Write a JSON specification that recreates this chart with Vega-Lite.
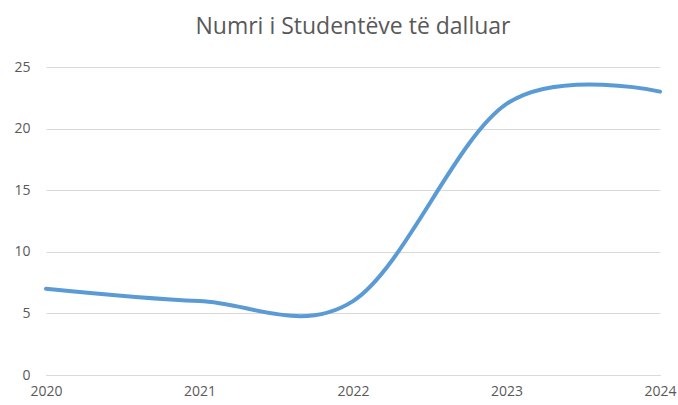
{
  "$schema": "https://vega.github.io/schema/vega-lite/v6.json",
  "width": 614,
  "height": 308,
  "autosize": {"type": "none"},
  "padding": {"left": 46, "top": 67, "right": 18, "bottom": 30},
  "background": "white",
  "title": {
    "text": "Numri i Studentëve të dalluar",
    "fontSize": 23,
    "font": "Open Sans",
    "fontWeight": "normal",
    "color": "#595959",
    "anchor": "middle",
    "offset": 21
  },
  "config": {"view": {"stroke": null}},
  "data": {
    "values": [
      {"year": 2020, "value": 7},
      {"year": 2021, "value": 6},
      {"year": 2022, "value": 6},
      {"year": 2023, "value": 22},
      {"year": 2024, "value": 23}
    ]
  },
  "mark": {"type": "line", "interpolate": "cardinal", "color": "#5b9bd5", "strokeWidth": 4, "strokeCap": "round"},
  "encoding": {
    "x": {
      "field": "year",
      "type": "quantitative",
      "scale": {"domain": [2020, 2024], "nice": false, "zero": false},
      "axis": {
        "title": null,
        "values": [2020, 2021, 2022, 2023, 2024],
        "format": "d",
        "grid": false,
        "ticks": false,
        "domainColor": "#d9d9d9",
        "labelColor": "#595959",
        "labelFont": "Open Sans",
        "labelFontSize": 14,
        "labelPadding": 9,
        "labelFlush": false
      }
    },
    "y": {
      "field": "value",
      "type": "quantitative",
      "scale": {"domain": [0, 25], "nice": false},
      "axis": {
        "title": null,
        "values": [0, 5, 10, 15, 20, 25],
        "grid": true,
        "gridColor": "#d9d9d9",
        "domain": false,
        "ticks": false,
        "labelColor": "#595959",
        "labelFont": "Open Sans",
        "labelFontSize": 14,
        "labelPadding": 16
      }
    }
  }
}
